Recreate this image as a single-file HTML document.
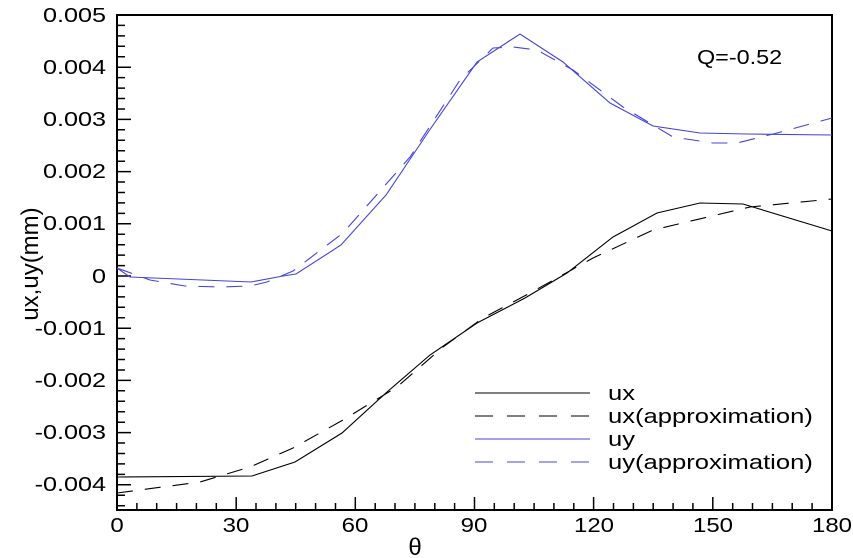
<!DOCTYPE html>
<html><head><meta charset="utf-8"><style>body{margin:0;background:#fff}svg{display:block}text{font-family:"Liberation Sans",Arial,sans-serif}</style></head>
<body>
<svg width="853" height="558" viewBox="0 0 853 558" xmlns="http://www.w3.org/2000/svg">
<path stroke="#000" stroke-width="1.5" fill="none" d="
M117 15h14M117 25.4h8M117 35.9h8M117 46.3h8M117 56.8h8M117 67.2h14M117 77.6h8M117 88.1h8M117 98.5h8M117 109h8
M117 119.4h14M117 129.8h8M117 140.3h8M117 150.7h8M117 161.2h8M117 171.6h14M117 182h8M117 192.5h8M117 202.9h8M117 213.4h8
M117 223.8h14M117 234.2h8M117 244.7h8M117 255.1h8M117 265.6h8M117 276h14M117 286.4h8M117 296.9h8M117 307.3h8M117 317.8h8
M117 328.2h14M117 338.6h8M117 349.1h8M117 359.5h8M117 370h8M117 380.4h14M117 390.8h8M117 401.3h8M117 411.7h8M117 422.2h8
M117 432.6h14M117 443h8M117 453.5h8M117 463.9h8M117 474.4h8M117 484.8h14M117 495.2h8M117 505.7h8
M117 510v-13M136.9 510v-7M156.7 510v-7M176.6 510v-7M196.4 510v-7M216.3 510v-7M236.2 510v-13M256 510v-7M275.9 510v-7M295.7 510v-7M315.6 510v-7M335.5 510v-7
M355.3 510v-13M375.2 510v-7M395 510v-7M414.9 510v-7M434.8 510v-7M454.6 510v-7M474.5 510v-13M494.3 510v-7M514.2 510v-7M534.1 510v-7M553.9 510v-7M573.8 510v-7
M593.6 510v-13M613.5 510v-7M633.4 510v-7M653.2 510v-7M673.1 510v-7M692.9 510v-7M712.8 510v-13M732.7 510v-7M752.5 510v-7M772.4 510v-7M792.2 510v-7M812.1 510v-7M832 510v-13"/>
<rect x="117" y="15" width="715" height="495" fill="none" stroke="#000" stroke-width="2"/>
<g font-size="20" text-anchor="end">
<text transform="translate(106,22) scale(1.26,1)">0.005</text>
<text transform="translate(106,74) scale(1.26,1)">0.004</text>
<text transform="translate(106,126) scale(1.26,1)">0.003</text>
<text transform="translate(106,178) scale(1.26,1)">0.002</text>
<text transform="translate(106,230) scale(1.26,1)">0.001</text>
<text transform="translate(106,283) scale(1.26,1)">0</text>
<text transform="translate(106,335) scale(1.26,1)">-0.001</text>
<text transform="translate(106,387) scale(1.26,1)">-0.002</text>
<text transform="translate(106,439) scale(1.26,1)">-0.003</text>
<text transform="translate(106,491) scale(1.26,1)">-0.004</text>
</g>
<g font-size="20" text-anchor="middle">
<text transform="translate(117,532) scale(1.2,1)">0</text>
<text transform="translate(236,532) scale(1.2,1)">30</text>
<text transform="translate(355,532) scale(1.2,1)">60</text>
<text transform="translate(474,532) scale(1.2,1)">90</text>
<text transform="translate(594,532) scale(1.2,1)">120</text>
<text transform="translate(713,532) scale(1.2,1)">150</text>
<text transform="translate(832,532) scale(1.2,1)">180</text>
</g>
<text x="415" y="555" font-size="24" text-anchor="middle" font-family="'Liberation Serif',serif">θ</text>
<text transform="translate(38,264) rotate(-90)" font-size="24" text-anchor="middle">ux,uy(mm)</text>
<text transform="translate(697,64) scale(1.17,1)" font-size="20">Q=-0.52</text>
<g fill="none" stroke-width="1.1">
<polyline stroke="#4444dd" points="117,268 130,277 251,282 283,276 296,274 341,245 386,195 431,128 477,62 520,34 563,62 610,103 653,126 700,133 747,134 832,135"/>
<polyline stroke="#4444dd" stroke-dasharray="16,12" points="117,268 150,280 185,286 220,287 250,286 267,282 293,271 343,233 410,157 460,80 493,48 513,47 537,50 573,70 623,107 673,137 713,143 737,143 777,133 832,118"/>
<polyline stroke="#000" points="117,477 252,476 295,462 342,433 387,392 430,355 477,323 525,298 567,273 613,237 657,213 700,203 743,204 832,231"/>
<polyline stroke="#000" stroke-dasharray="16,12" points="117,493 200,482 250,467 293,448 343,420 397,387 443,347 483,318 530,293 593,258 653,230 750,207 832,199"/>
<line x1="475" x2="590" y1="393" y2="393" stroke="#000"/>
<line x1="475" x2="590" y1="416" y2="416" stroke="#000" stroke-dasharray="18,14"/>
<line x1="475" x2="590" y1="439" y2="439" stroke="#4444dd"/>
<line x1="475" x2="590" y1="462" y2="462" stroke="#4444dd" stroke-dasharray="18,14"/>
</g>
<g font-size="20">
<text transform="translate(608,400) scale(1.28,1)">ux</text>
<text transform="translate(608,423) scale(1.28,1)">ux(approximation)</text>
<text transform="translate(608,446) scale(1.28,1)">uy</text>
<text transform="translate(608,469) scale(1.28,1)">uy(approximation)</text>
</g>
</svg>
</body></html>
